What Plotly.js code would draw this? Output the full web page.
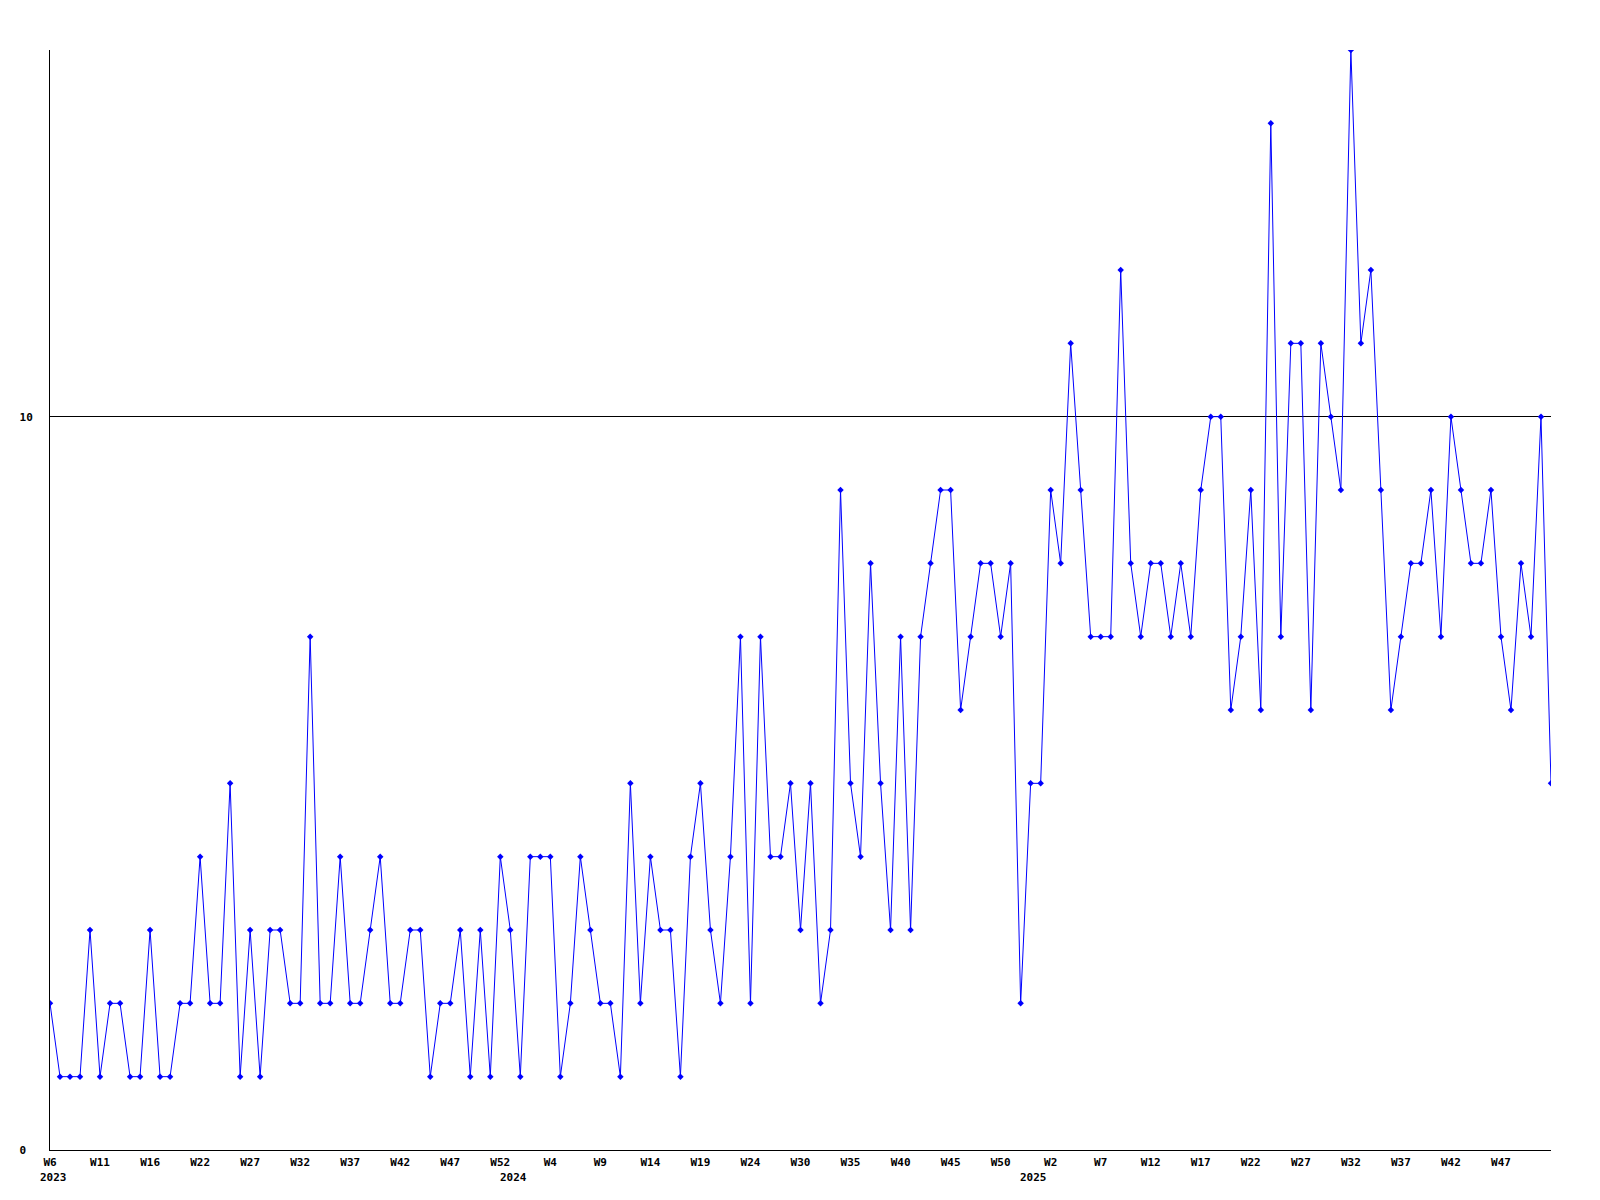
<!DOCTYPE html>
<html>
<head>
<meta charset="utf-8">
<script src="https://cdn.plot.ly/plotly-3.0.1.min.js"></script>
<style>
  html, body { margin: 0; padding: 0; background: #ffffff; }
  #chart { width: 1600px; height: 1200px; }
</style>
</head>
<body>
<div id="chart"></div>
<script>
// ---- data ----
const periodYears = [2023, 2024, 2025];
const periodFirstWeek = [6, 1, 1];
const periodLastWeek = [52, 52, 52];

const counts = [
  2,1,1,1,3,1,2,2,1,1,3,1,1,2,2,4,2,2,5,1,3,1,
  3,3,2,2,7,2,2,4,2,2,3,4,2,2,3,3,1,2,2,3,1,3,
  1,4,3,1,4,4,4,1,2,4,3,2,2,1,5,2,4,3,3,1,4,
  5,3,2,4,7,2,7,4,4,5,3,5,2,3,9,5,4,8,5,3,7,3,
  7,8,9,9,6,7,8,8,7,8,2,5,5,9,8,11,9,7,7,7,12,
  8,7,8,8,7,8,7,9,10,10,6,7,9,6,14,7,11,11,6,11,10,9,
  15,11,12,9,6,7,8,8,9,7,10,9,8,8,9,7,6,8,7,10,5
];

const tickLabels = [
  'W6','W11','W16','W22','W27','W32','W37','W42','W47','W52',
  'W4','W9','W14','W19','W24','W30','W35','W40','W45','W50',
  'W2','W7','W12','W17','W22','W27','W32','W37','W42','W47'
];
const yearLabels = ['2023', '2024', '2025'];
const yTickValues = [0, 10];
const yTickLabels = ['0', '10'];

// ---- build categories ----
const categories = [];
const yearStartCategory = [];
periodYears.forEach((yr, k) => {
  yearStartCategory.push(yr + '-W' + String(periodFirstWeek[k]).padStart(2, '0'));
  for (let w = periodFirstWeek[k]; w <= periodLastWeek[k]; w++) {
    categories.push(yr + '-W' + String(w).padStart(2, '0'));
  }
});

const tickEvery = 5;
const tickVals = categories.filter((c, i) => i % tickEvery === 0).slice(0, tickLabels.length);

// y labels are left-aligned in the reference: pad with non-breaking spaces (monospace font)
const maxLen = Math.max(...yTickLabels.map(s => s.length));
const yTickText = yTickLabels.map(s => s + '\u00a0'.repeat(maxLen - s.length));

const fontFamily = '"DejaVu Sans Mono", "Liberation Mono", monospace';

const trace = {
  type: 'scatter',
  mode: 'lines+markers',
  x: categories,
  y: counts,
  line: { color: '#0000ff', width: 1 },
  marker: { color: '#0000ff', symbol: 'diamond', size: 5, line: { width: 0 } },
  hoverinfo: 'x+y'
};

const annotations = yearLabels.map((t, k) => ({
  text: t,
  x: yearStartCategory[k],
  xref: 'x',
  y: 0,
  yref: 'paper',
  xanchor: k === 0 ? 'left' : 'center',
  yanchor: 'top',
  xshift: k === 0 ? -12 : -7,
  yshift: -19,
  showarrow: false,
  font: { family: fontFamily, size: 11, color: '#000000', weight: 'bold' }
}));

const layout = {
  width: 1600,
  height: 1200,
  margin: { l: 50, r: 49, t: 50, b: 50, pad: 0 },
  paper_bgcolor: '#ffffff',
  plot_bgcolor: '#ffffff',
  showlegend: false,
  font: { family: fontFamily, size: 11, color: '#000000', weight: 'bold' },
  xaxis: {
    type: 'category',
    range: [0, categories.length - 1],
    tickmode: 'array',
    tickvals: tickVals,
    ticktext: tickLabels,
    tickangle: 0,
    showgrid: false,
    zeroline: false,
    showline: true,
    linecolor: '#000000',
    linewidth: 1,
    ticks: 'outside',
    ticklen: 2,
    tickcolor: 'rgba(0,0,0,0)',
    tickfont: { family: fontFamily, size: 11, color: '#000000', weight: 'bold' }
  },
  yaxis: {
    range: [0, 15],
    tickmode: 'array',
    tickvals: yTickValues,
    ticktext: yTickText,
    showgrid: true,
    gridcolor: '#000000',
    gridwidth: 1,
    zeroline: false,
    showline: true,
    linecolor: '#000000',
    linewidth: 1,
    ticks: 'outside',
    ticklen: 14,
    tickcolor: 'rgba(0,0,0,0)',
    tickfont: { family: fontFamily, size: 11, color: '#000000', weight: 'bold' }
  },
  annotations: annotations
};

Plotly.newPlot('chart', [trace], layout, { staticPlot: true, displayModeBar: false });
</script>
</body>
</html>
